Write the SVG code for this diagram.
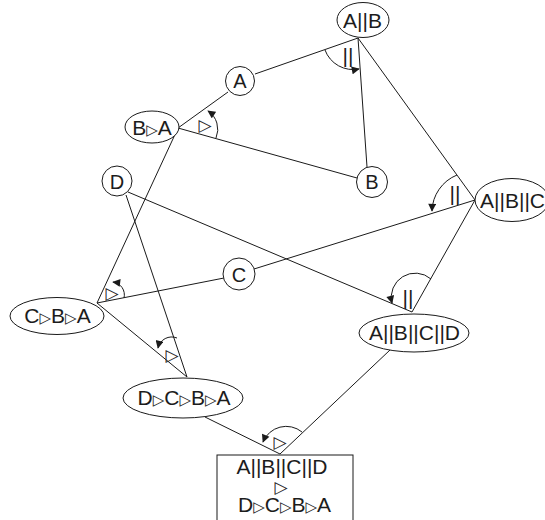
<svg xmlns="http://www.w3.org/2000/svg" width="545" height="520" viewBox="0 0 545 520">
  <style>
    .edge { fill: none; stroke: #1a1a1a; stroke-width: 1; }
    .arc { fill: none; stroke: #1a1a1a; stroke-width: 1; marker-end: url(#head); }
    .shape { fill: #ffffff; stroke: #1a1a1a; stroke-width: 1; }
    text { opacity: 0.99; }
    .lbl { font-family: "Liberation Sans", Arial, sans-serif; font-size: 21px; fill: #1a1a1a; text-anchor: middle; }
    .small { font-family: "Liberation Sans", Arial, sans-serif; font-size: 20px; fill: #1a1a1a; text-anchor: middle; }
    .tri { font-family: "DejaVu Sans", sans-serif; font-size: 15px; }
    .op { font-family: "DejaVu Sans", sans-serif; font-size: 17px; fill: #1a1a1a; text-anchor: middle; }
    .par { font-family: "Liberation Sans", Arial, sans-serif; font-size: 21px; fill: #1a1a1a; text-anchor: middle; }
  </style>
  <defs>
    <marker id="head" viewBox="0 0 10 10" refX="9" refY="5" markerWidth="9" markerHeight="8" markerUnits="userSpaceOnUse" orient="auto">
      <path d="M0,0 L10,5 L0,10 Z" fill="#1a1a1a"/>
    </marker>
  </defs>

  <rect width="545" height="520" fill="#ffffff"/>

  <!-- connectors -->
  <g id="connectors">
    <line class="edge" x1="255" y1="74" x2="358" y2="38"/>
    <line class="edge" x1="228" y1="92" x2="178" y2="128"/>
    <line class="edge" x1="178" y1="128" x2="357" y2="178"/>
    <line class="edge" x1="367" y1="167" x2="358" y2="38"/>
    <line class="edge" x1="358" y1="38" x2="475" y2="200"/>
    <line class="edge" x1="254" y1="269" x2="475" y2="200"/>
    <line class="edge" x1="224" y1="278" x2="97" y2="303"/>
    <line class="edge" x1="178" y1="128" x2="97" y2="303"/>
    <line class="edge" x1="128" y1="192" x2="412" y2="312"/>
    <line class="edge" x1="126" y1="195" x2="187" y2="377"/>
    <line class="edge" x1="97" y1="303" x2="187" y2="377"/>
    <line class="edge" x1="475" y1="200" x2="412" y2="312"/>
    <line class="edge" x1="205" y1="417" x2="280" y2="454"/>
    <line class="edge" x1="390" y1="350" x2="280" y2="454"/>

    <!-- operator arcs -->
    <path class="arc" d="M325,50 A30,30 0 0 0 359,69"/>
    <path class="arc" d="M216,138 A22,22 0 0 0 208,111"/>
    <path class="arc" d="M457,175 A40,40 0 0 0 432,211"/>
    <path class="arc" d="M431,279 A24,24 0 0 0 392,303"/>
    <path class="arc" d="M124,298 A13,13 0 0 0 113,282"/>
    <path class="arc" d="M177,338 A14,14 0 0 0 158,348"/>
    <path class="arc" d="M302,432 A25,25 0 0 0 263,442"/>

    <text class="par" x="348" y="63">||</text>
    <text class="op" x="205" y="131">▷</text>
    <text class="par" x="455" y="201">||</text>
    <text class="par" x="408" y="305">||</text>
    <text class="op" x="112" y="299">▷</text>
    <text class="op" x="172" y="361">▷</text>
    <text class="op" x="280" y="448">▷</text>
  </g>

  <!-- nodes -->
  <g id="n-AB">
    <ellipse class="shape" cx="363" cy="20" rx="26" ry="17.5"/>
    <text class="lbl" x="362.5" y="28">A||B</text>
  </g>
  <g id="n-A">
    <circle class="shape" cx="240" cy="81" r="14.5"/>
    <text class="small" x="240" y="88">A</text>
  </g>
  <g id="n-BA">
    <ellipse class="shape" cx="152" cy="127" rx="27" ry="16"/>
    <text class="lbl" x="152" y="135">B<tspan class="tri">▷</tspan>A</text>
  </g>
  <g id="n-B">
    <circle class="shape" cx="372" cy="182" r="15.5"/>
    <text class="small" x="372" y="189">B</text>
  </g>
  <g id="n-D">
    <circle class="shape" cx="117" cy="181" r="15"/>
    <text class="small" x="117" y="188.5">D</text>
  </g>
  <g id="n-ABC">
    <ellipse class="shape" cx="512" cy="200" rx="37" ry="21.5"/>
    <text class="lbl" x="512.5" y="208">A||B||C</text>
  </g>
  <g id="n-C">
    <circle class="shape" cx="239" cy="274" r="16"/>
    <text class="small" x="239" y="281.5">C</text>
  </g>
  <g id="n-CBA">
    <ellipse class="shape" cx="57" cy="316" rx="47" ry="18.5"/>
    <text class="lbl" x="57.5" y="323">C<tspan class="tri">▷</tspan>B<tspan class="tri">▷</tspan>A</text>
  </g>
  <g id="n-ABCD">
    <ellipse class="shape" cx="414" cy="333" rx="55" ry="19"/>
    <text class="lbl" x="414.5" y="340">A||B||C||D</text>
  </g>
  <g id="n-DCBA">
    <ellipse class="shape" cx="183" cy="398" rx="60" ry="20"/>
    <text class="lbl" x="184" y="405">D<tspan class="tri">▷</tspan>C<tspan class="tri">▷</tspan>B<tspan class="tri">▷</tspan>A</text>
  </g>
  <g id="n-result">
    <rect class="shape" x="217" y="455" width="136" height="70"/>
    <text class="lbl" x="282" y="474">A||B||C||D</text>
    <text class="op" x="281" y="493">▷</text>
    <text class="lbl" x="284.5" y="512">D<tspan class="tri">▷</tspan>C<tspan class="tri">▷</tspan>B<tspan class="tri">▷</tspan>A</text>
  </g>
</svg>
